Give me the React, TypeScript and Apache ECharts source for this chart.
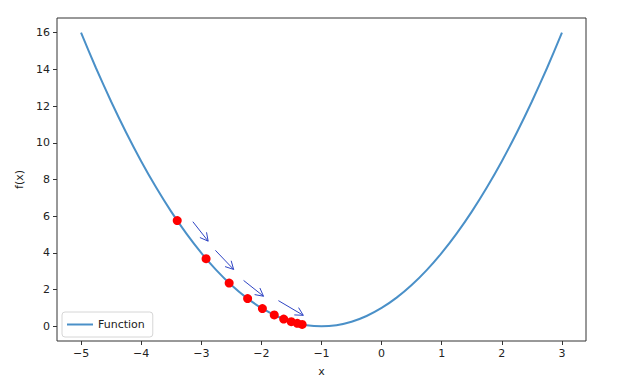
import React, { useEffect, useRef } from "react";
import * as echarts from "echarts";

const curveX = [-5, -4.75, -4.5, -4.25, -4, -3.75, -3.5, -3.25, -3, -2.75, -2.5, -2.25, -2, -1.75, -1.5, -1.25, -1, -0.75, -0.5, -0.25, 0, 0.25, 0.5, 0.75, 1, 1.25, 1.5, 1.75, 2, 2.25, 2.5, 2.75, 3];
const curveY = [16, 14.0625, 12.25, 10.5625, 9, 7.5625, 6.25, 5.0625, 4, 3.0625, 2.25, 1.5625, 1, 0.5625, 0.25, 0.0625, 0, 0.0625, 0.25, 0.5625, 1, 1.5625, 2.25, 3.0625, 4, 5.0625, 6.25, 7.5625, 9, 10.5625, 12.25, 14.0625, 16];

const stepX = [-3.4, -2.92, -2.536, -2.229, -1.983, -1.786, -1.629, -1.503, -1.403, -1.322];
const stepY = [5.76, 3.686, 2.359, 1.51, 0.966, 0.618, 0.396, 0.253, 0.162, 0.104];

// arrows: [x1, y1, x2, y2]
const arrows = [
  [-3.14, 5.7, -2.886, 4.64],
  [-2.765, 4.14, -2.462, 3.1],
  [-2.296, 2.5, -1.965, 1.64],
  [-1.717, 1.4, -1.303, 0.6],
];

const xTicks = [-5, -4, -3, -2, -1, 0, 1, 2, 3];
const yTicks = [0, 2, 4, 6, 8, 10, 12, 14, 16];

const FONT = "DejaVu Sans";
const fmt = (v: number) => String(v).replace("-", "\u2212");

export default function App() {
  const ref = useRef<HTMLDivElement>(null);
  useEffect(() => {
    if (!ref.current) return;
    const chart = echarts.init(ref.current, undefined, { renderer: "svg" });
    chart.setOption({
      animation: false,
      backgroundColor: "#ffffff",
      textStyle: { fontFamily: FONT },
      grid: {
        left: 57,
        right: 42,
        top: 18,
        bottom: 51,
        show: true,
        borderColor: "#333333",
        borderWidth: 1,
        backgroundColor: "transparent",
      },
      legend: {
        data: ["Function"],
        left: 62,
        top: 312,
        orient: "vertical",
        icon: "rect",
        itemWidth: 26,
        itemHeight: 2,
        itemGap: 4,
        padding: [7, 8, 7, 5],
        borderColor: "#d6d6d6",
        borderWidth: 1,
        borderRadius: 3,
        backgroundColor: "rgba(255,255,255,0.8)",
        textStyle: { fontFamily: FONT, fontSize: 11, color: "#222" },
      },
      xAxis: {
        type: "value",
        min: -5.4,
        max: 3.4,
        name: "x",
        nameLocation: "middle",
        nameGap: 25,
        nameTextStyle: { fontFamily: FONT, fontSize: 11, color: "#222" },
        splitLine: { show: false },
        axisLine: { show: false, onZero: false },
        axisTick: { show: true, inside: false, length: 4, lineStyle: { color: "#333" }, customValues: xTicks },
        axisLabel: {
          margin: 7,
          fontFamily: FONT,
          fontSize: 11,
          color: "#222",
          customValues: xTicks,
          formatter: (v: number) => fmt(v),
        },
      },
      yAxis: {
        type: "value",
        min: -0.8,
        max: 16.8,
        name: "f(x)",
        nameLocation: "middle",
        nameGap: 29,
        nameRotate: 90,
        nameTextStyle: { fontFamily: FONT, fontSize: 11, color: "#222" },
        splitLine: { show: false },
        axisLine: { show: false, onZero: false },
        axisTick: { show: true, inside: false, length: 4, lineStyle: { color: "#333" }, customValues: yTicks },
        axisLabel: {
          margin: 7,
          fontFamily: FONT,
          fontSize: 11,
          color: "#222",
          customValues: yTicks,
          formatter: (v: number) => fmt(v),
        },
      },
      series: [
        {
          name: "Function",
          type: "line",
          data: curveX.map((x, i) => [x, curveY[i]]),
          symbol: "none",
          smooth: 0.2,
          lineStyle: { color: "#4a90c8", width: 2 },
          itemStyle: { color: "#4a90c8" },
          z: 2,
        },
        {
          name: "Steps",
          type: "scatter",
          data: stepX.map((x, i) => [x, stepY[i]]),
          symbol: "circle",
          symbolSize: 9,
          itemStyle: { color: "#ff0000", opacity: 1 },
          z: 3,
        },
        {
          name: "Arrows",
          type: "custom",
          data: arrows,
          encode: { x: [0, 2], y: [1, 3] },
          z: 4,
          renderItem: (params: any, api: any) => {
            const p1 = api.coord([api.value(0), api.value(1)]);
            const p2 = api.coord([api.value(2), api.value(3)]);
            const ang = Math.atan2(p2[1] - p1[1], p2[0] - p1[0]);
            const L = 9;
            const a = (28 * Math.PI) / 180;
            const h1 = [p2[0] - L * Math.cos(ang - a), p2[1] - L * Math.sin(ang - a)];
            const h2 = [p2[0] - L * Math.cos(ang + a), p2[1] - L * Math.sin(ang + a)];
            const style = { stroke: "#2f45c4", lineWidth: 1, fill: "none" };
            return {
              type: "group",
              children: [
                { type: "line", shape: { x1: p1[0], y1: p1[1], x2: p2[0], y2: p2[1] }, style },
                { type: "polyline", shape: { points: [h1, p2, h2] }, style },
              ],
            };
          },
        },
      ],
    });
    return () => chart.dispose();
  }, []);
  return <div ref={ref} style={{ position: "fixed", left: 0, top: 0, width: 628, height: 392 }} />;
}
